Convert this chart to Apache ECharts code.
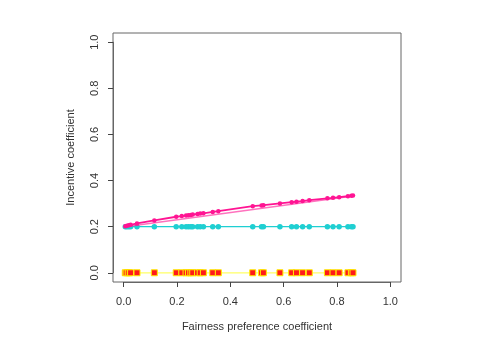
<!DOCTYPE html>
<html>
<head>
<meta charset="utf-8">
<script src="https://cdn.jsdelivr.net/npm/echarts@6/dist/echarts.min.js"></script>
<style>
html,body{margin:0;padding:0;background:#fff;}
#chart{width:499px;height:345px;}
</style>
</head>
<body>
<div id="chart"></div>
<script>
// Fairness preference coefficient values (x)
var fairness = [0.006,0.012,0.019,0.026,0.05,0.115,0.197,0.218,0.234,0.243,0.252,0.259,0.277,0.287,0.299,0.334,0.355,0.484,0.517,0.524,0.586,0.630,0.648,0.671,0.696,0.764,0.785,0.808,0.841,0.854,0.860];
// Incentive coefficient, upper (pink) series
var incentivePink = [0.202,0.204,0.206,0.208,0.214,0.227,0.243,0.246,0.248,0.250,0.251,0.253,0.255,0.257,0.258,0.264,0.267,0.289,0.292,0.293,0.301,0.306,0.308,0.311,0.315,0.323,0.325,0.328,0.332,0.334,0.335];
// Incentive coefficient, middle (cyan) series
var incentiveCyan = [0.2,0.2,0.2,0.2,0.2,0.2,0.2,0.2,0.2,0.2,0.2,0.2,0.2,0.2,0.2,0.2,0.2,0.2,0.2,0.2,0.2,0.2,0.2,0.2,0.2,0.2,0.2,0.2,0.2,0.2,0.2];
// Incentive coefficient, lower (red/yellow) series
var incentiveZero = [0,0,0,0,0,0,0,0,0,0,0,0,0,0,0,0,0,0,0,0,0,0,0,0,0,0,0,0,0,0,0];
// Straight band line of the pink series (start and end)
var bandX = [0.006, 0.860];
var bandY = [0.200, 0.333];
// Tick labels
var tickLabels = ['0.0','0.2','0.4','0.6','0.8','1.0'];

function pairs(xs, ys){ return xs.map(function(x,i){ return [x, ys[i]]; }); }

var chart = echarts.init(document.getElementById('chart'));
var font = 'Liberation Sans, Arial, sans-serif';

// Box (plot region) geometry, with R-style 4% range extension
var W = 499, H = 345;
var boxL = 113, boxR = 98, boxT = 33, boxB = 63;
var lo = -0.04, hi = 1.04;
var boxW = W - boxL - boxR, boxH = H - boxT - boxB;
var padX = (0 - lo) / (hi - lo) * boxW;
var padY = (0 - lo) / (hi - lo) * boxH;

function fmt(v){ return tickLabels[Math.round(v / 0.2)]; }

function hiddenAxis(gi){
  return {type:'value', gridIndex:gi, min:lo, max:hi, show:false};
}
function tickAxis(gi, name, isY, off){
  return {
    type:'value', gridIndex:gi, min:0, max:1, interval:0.2, offset:off,
    position: isY ? 'left' : 'bottom',
    name:name, nameLocation:'middle', nameGap: isY ? 37 : 39,
    nameTextStyle:{color:'#333', fontSize:11, fontFamily:font},
    axisLine:{show:true, onZero:false, lineStyle:{color:'#666', width:1}},
    splitLine:{show:false},
    axisTick:{show:true, inside:false, length:5, lineStyle:{color:'#444', width:1}},
    axisLabel:{color:'#333', fontSize:11, fontFamily:font,
      margin: isY ? 13 : 14, rotate: isY ? 90 : 0, formatter:fmt}
  };
}

chart.setOption({
  animation:false,
  backgroundColor:'#fff',
  grid:[
    {left:boxL, right:boxR, top:boxT, bottom:boxB, show:true, borderColor:'#666', borderWidth:1, backgroundColor:'transparent'},
    {left:boxL+padX, right:boxR+padX, top:boxT+padY, bottom:boxB+padY, show:false}
  ],
  xAxis:[hiddenAxis(0), tickAxis(1, 'Fairness preference coefficient', false, padY)],
  yAxis:[hiddenAxis(0), tickAxis(1, 'Incentive coefficient', true, padX)],
  series:[
    {type:'line', xAxisIndex:0, yAxisIndex:0, data:pairs(fairness, incentiveZero), symbol:'rect', symbolSize:6,
     lineStyle:{color:'#ffff66', width:1.2}, itemStyle:{color:'#ff1a1a', borderColor:'#ffee00', borderWidth:1}, z:2},
    {type:'line', xAxisIndex:0, yAxisIndex:0, data:pairs(fairness, incentiveCyan), symbol:'circle', symbolSize:5.5,
     lineStyle:{color:'#1fcfd2', width:1.2}, itemStyle:{color:'#1fcfd2'}, z:3},
    {type:'line', xAxisIndex:0, yAxisIndex:0, data:pairs(bandX, bandY), symbol:'none',
     lineStyle:{color:'#ff1493', width:1.5, opacity:0.6}, z:4},
    {type:'line', xAxisIndex:0, yAxisIndex:0, data:pairs(fairness, incentivePink), symbol:'circle', symbolSize:4.5,
     lineStyle:{color:'#ff1493', width:1.8}, itemStyle:{color:'#ff1493'}, z:5}
  ]
});
</script>
</body>
</html>
